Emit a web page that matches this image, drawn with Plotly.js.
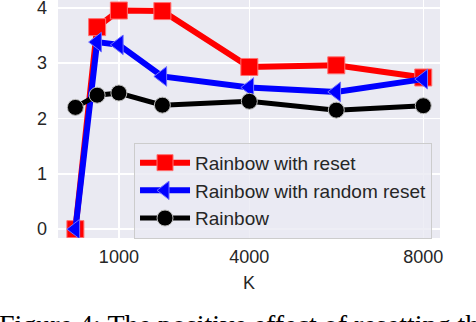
<!DOCTYPE html>
<html>
<head>
<meta charset="utf-8">
<script src="https://cdn.plot.ly/plotly-3.0.1.min.js"></script>
<style>
  html, body { margin: 0; padding: 0; background: #ffffff; }
  #plot { width: 476px; height: 322px; }
</style>
</head>
<body>
<div id="plot"></div>
<script>
const kValues = [0, 500, 1000, 2000, 4000, 6000, 8000];
const withReset = [0.0, 3.65, 3.95, 3.94, 2.93, 2.96, 2.74];
const withRandomReset = [0.0, 3.38, 3.33, 2.76, 2.56, 2.48, 2.71];
const rainbow = [2.2, 2.42, 2.46, 2.24, 2.31, 2.15, 2.23];

const xTicks = [1000, 4000, 8000];
const xTickText = ["1000", "4000", "8000"];
const yTicks = [0, 1, 2, 3, 4];
const seriesNames = ["Rainbow with reset", "Rainbow with random reset", "Rainbow"];

const labelFont = { family: "Liberation Sans, Arial, sans-serif", size: 18, color: "#262626" };
const legendFont = { family: "Liberation Sans, Arial, sans-serif", size: 19, color: "#262626" };

const traces = [
    {
        x: kValues,
        y: withReset,
        name: seriesNames[0],
        mode: "lines+markers",
        line: { color: "#ff0000", width: 6 },
        marker: { symbol: "square", size: 17, color: "#ff0000", line: { color: "#ff7070", width: 1 } }
    },
    {
        x: kValues,
        y: withRandomReset,
        name: seriesNames[1],
        mode: "lines+markers",
        line: { color: "#0000ff", width: 6 },
        marker: { symbol: "triangle-left", size: 17, color: "#0000ff", line: { color: "#7070ff", width: 1 } }
    },
    {
        x: kValues,
        y: rainbow,
        name: seriesNames[2],
        mode: "lines+markers",
        line: { color: "#000000", width: 5 },
        marker: { symbol: "circle", size: 16, color: "#000000", line: { color: "#bbbbbb", width: 1 } }
    }
];

const layout = {
    width: 476,
    height: 322,
    margin: { t: 0, l: 58, r: 36, b: 84 },
    paper_bgcolor: "#ffffff",
    plot_bgcolor: "#eaeaf2",
    font: labelFont,
    showlegend: true,
    legend: {
        x: 0.199,
        y: 0.4,
        xanchor: "left",
        yanchor: "top",
        bgcolor: "rgba(234,234,242,0.8)",
        bordercolor: "#cccccc",
        borderwidth: 1,
        font: legendFont,
        itemwidth: 50,
        tracegroupgap: 0
    },
    xaxis: {
        range: [-400, 8385],
        tickmode: "array",
        tickvals: xTicks,
        ticktext: xTickText,
        showgrid: true,
        gridcolor: "#ffffff",
        gridwidth: 1.5,
        zeroline: false,
        showline: false,
        ticks: "",
        ticklabelstandoff: 6,
        tickfont: labelFont,
        title: { text: "K", font: labelFont, standoff: 10 }
    },
    yaxis: {
        range: [-0.16, 4.14],
        tickmode: "array",
        tickvals: yTicks,
        showgrid: true,
        gridcolor: "#ffffff",
        gridwidth: 1.5,
        zeroline: false,
        showline: false,
        ticks: "",
        ticklabelstandoff: 10,
        ticklabeloverflow: "allow",
        tickfont: labelFont
    },
    annotations: [
        {
            text: "Figure 4: The positive effect of resetting the",
            xref: "paper",
            yref: "paper",
            x: -0.16,
            y: -0.29,
            xanchor: "left",
            yanchor: "top",
            showarrow: false,
            font: { family: "Liberation Serif, Times New Roman, serif", size: 28, color: "#000000" }
        }
    ]
};

Plotly.newPlot("plot", traces, layout, { displayModeBar: false, staticPlot: true });
</script>
</body>
</html>
